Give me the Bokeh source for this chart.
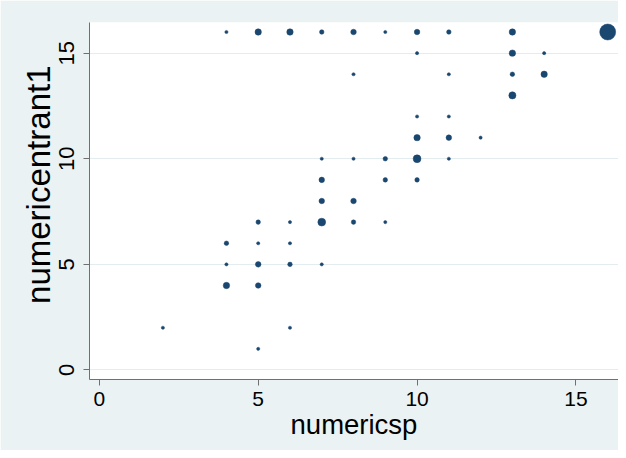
from bokeh.plotting import figure
from bokeh.models import ColumnDataSource, FixedTicker, Range1d, Title
from bokeh.embed import file_html
from bokeh.resources import INLINE
import numpy as np

# Data: numericsp (x), numericentrant1 (y), frequency weight (marker size)
numericsp = [4, 5, 6, 7, 8, 9, 10, 11, 13, 16,
             10, 13, 14,
             8, 11, 13, 14,
             13,
             10, 11,
             10, 11, 12,
             7, 8, 9, 10, 11,
             7, 9, 10,
             7, 8,
             5, 6, 7, 8, 9,
             4, 5, 6,
             4, 5, 6, 7,
             4, 5,
             2, 6,
             5]
numericentrant1 = [16, 16, 16, 16, 16, 16, 16, 16, 16, 16,
                   15, 15, 15,
                   14, 14, 14, 14,
                   13,
                   12, 12,
                   11, 11, 11,
                   10, 10, 10, 10, 10,
                   9, 9, 9,
                   8, 8,
                   7, 7, 7, 7, 7,
                   6, 6, 6,
                   5, 5, 5, 5,
                   4, 4,
                   2, 2,
                   1]
freq = [1, 4, 4, 2, 3, 1, 3, 2, 4, 25,
        1, 4, 1,
        1, 1, 2, 4,
        5,
        1, 1,
        4, 3, 1,
        1, 1, 2, 6, 1,
        3, 2, 2,
        3, 3,
        2, 1, 6, 2, 1,
        2, 1, 1,
        1, 3, 2, 1,
        4, 3,
        1, 1,
        1]

x_ticks = [0, 5, 10, 15]
y_ticks = [0, 5, 10, 15]

BG = "#EAF2F3"
NAVY = "#1a476f"

src = ColumnDataSource(dict(x=numericsp, y=numericentrant1,
                            size=[3.2 * np.sqrt(f) for f in freq]))

p = figure(frame_width=529, frame_height=357,
           min_border_left=89, min_border_right=0,
           min_border_top=22, min_border_bottom=71,
           x_range=Range1d(-0.31, 16.34), y_range=Range1d(-0.45, 16.45),
           output_backend="svg", toolbar_location=None,
           background_fill_color="white", border_fill_color=BG)
p.outline_line_color = None

p.scatter("x", "y", size="size", source=src, fill_color=NAVY,
          line_color=NAVY, line_width=0.5)

p.xgrid.visible = False
p.ygrid.grid_line_color = "#E3ECEE"
p.ygrid.grid_line_width = 1
p.ygrid.ticker = FixedTicker(ticks=y_ticks)

for ax, ticks in ((p.xaxis[0], x_ticks), (p.yaxis[0], y_ticks)):
    ax.ticker = FixedTicker(ticks=ticks)
    ax.axis_line_color = "#707070"
    ax.major_tick_line_color = "#707070"
    ax.major_tick_out = 6
    ax.major_tick_in = 0
    ax.minor_tick_line_color = None
    ax.major_label_text_font = "Liberation Sans"
    ax.major_label_text_color = "black"
    ax.axis_label_text_font = "Liberation Sans"
    ax.axis_label_text_font_style = "normal"
    ax.axis_label_text_color = "black"

p.xaxis.major_label_text_font_size = "21px"
p.yaxis.major_label_text_font_size = "22px"
p.xaxis.axis_label_text_font_size = "27.5px"
p.xaxis.axis_label = "numericsp"
p.xaxis.major_label_standoff = 6
p.xaxis.axis_label_standoff = 0
p.yaxis.major_label_standoff = 9
p.yaxis.major_label_orientation = "vertical"

ytitle = Title(text="numericentrant1", align="right", offset=43, standoff=0,
               text_font="Liberation Sans", text_font_size="33px",
               text_font_style="normal", text_color="black")
p.add_layout(ytitle, "left")

open("out.html", "w").write(file_html(p, INLINE))
